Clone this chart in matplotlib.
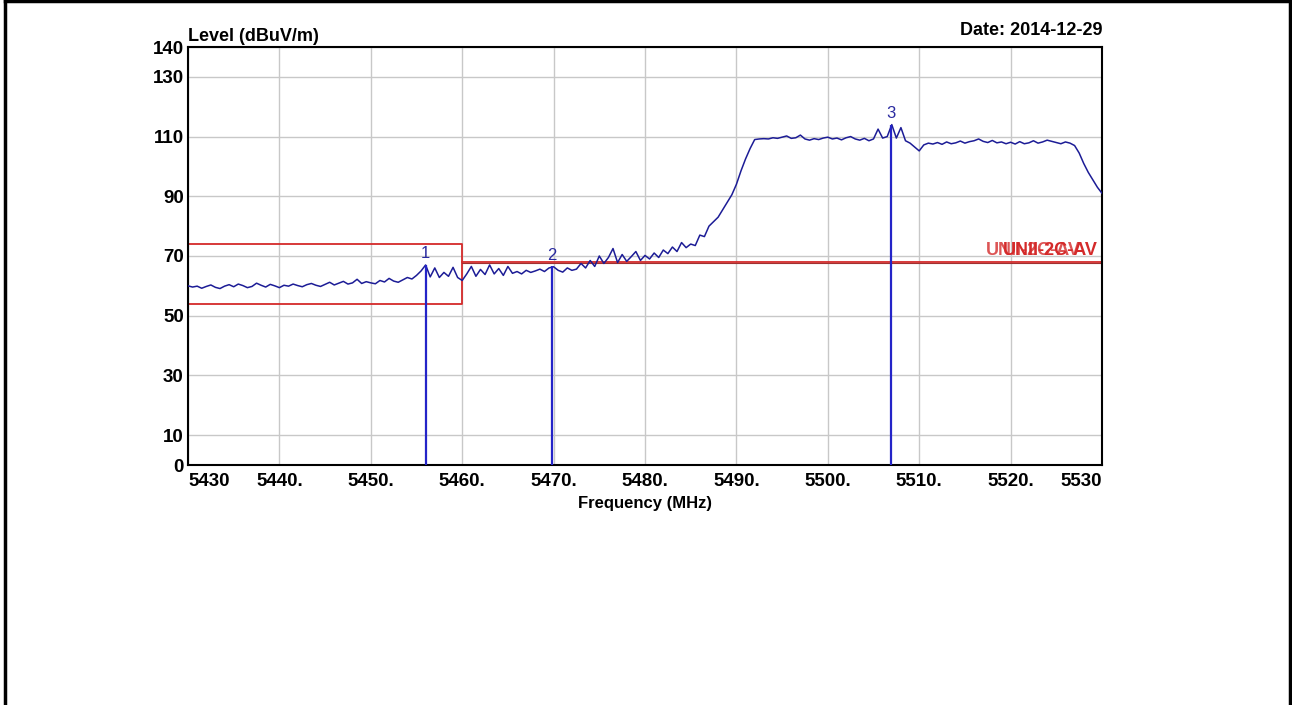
import matplotlib.pyplot as plt
import numpy as np

plt.rcParams['font.family'] = ['Liberation Sans', 'DejaVu Sans']

# trace, one point every 0.5 MHz from 5430 to 5530
freq = np.linspace(5430, 5530, 201)
level = [
    60.0, 59.6, 59.9, 59.2, 59.8, 60.3, 59.5, 59.1, 59.9, 60.4,
    59.7, 60.6, 60.1, 59.4, 59.8, 60.9, 60.2, 59.6, 60.5, 60.0,
    59.4, 60.2, 59.9, 60.6, 60.1, 59.7, 60.4, 60.8, 60.2, 59.8,
    60.5, 61.2, 60.3, 60.9, 61.5, 60.6, 61.0, 62.2, 60.8, 61.4,
    61.0, 60.7, 61.8, 61.3, 62.5, 61.6, 61.2, 62.0, 62.8, 62.3,
    63.5, 65.0, 67.0, 63.0, 66.0, 62.8, 64.5, 63.2, 66.2, 62.8,
    61.8, 64.0, 66.5, 63.2, 65.5, 63.8, 67.0, 64.0, 65.8, 63.5,
    66.5, 64.2, 64.8, 64.0, 65.2, 64.5, 65.0, 65.6, 64.8, 66.0,
    66.4, 65.2, 64.6, 66.0, 65.2, 65.6, 67.5, 66.0, 68.5, 66.5,
    70.0, 67.5, 69.5, 72.5, 67.8, 70.5, 68.2, 69.8, 71.5, 68.5,
    70.2, 69.0, 71.0, 69.5, 72.0, 70.8, 73.0, 71.5, 74.5, 72.8,
    74.0, 73.5, 77.0, 76.5, 80.0, 81.5, 83.0, 85.5, 88.0, 90.5,
    94.0, 98.5, 102.5, 106.0, 109.0, 109.2, 109.3, 109.2, 109.6, 109.4,
    109.8, 110.2, 109.4, 109.6, 110.5, 109.2, 108.8, 109.3, 109.0, 109.5,
    109.8, 109.2, 109.5, 108.9, 109.6, 110.0, 109.2, 108.8, 109.4, 108.6,
    109.2, 112.5, 109.5, 110.0, 114.0, 109.5, 113.0, 108.6, 107.8, 106.5,
    105.2, 107.2, 107.8, 107.5, 108.0, 107.4, 108.2, 107.6, 107.9, 108.5,
    107.8, 108.3, 108.6, 109.2, 108.4, 108.0, 108.7, 107.9, 108.2, 107.6,
    108.1, 107.5, 108.3, 107.6, 107.9, 108.6, 107.8, 108.2, 108.8, 108.4,
    108.0, 107.6, 108.2, 107.8, 107.0, 104.5, 101.0, 98.0, 95.5, 93.0,
    91.0,
]

marker_freq = [5456.0, 5469.8, 5506.9]
marker_level = [67.0, 66.5, 114.0]
marker_name = ["1", "2", "3"]

# limit lines
box_f = [5430, 5460]
box_lo = 54.0
box_hi = 74.0
limit_f = [5460, 5530]
limit_level = 68.0
limit_name = "UNII-2C-AV"

xticks = [5430, 5440, 5450, 5460, 5470, 5480, 5490, 5500, 5510, 5520, 5530]
xlabels = ["5430", "5440.", "5450.", "5460.", "5470.", "5480.", "5490.",
           "5500.", "5510.", "5520.", "5530"]
yticks = [0, 10, 30, 50, 70, 90, 110, 130, 140]

fig = plt.figure(figsize=(12.92, 7.05), dpi=100)
ax = fig.add_axes([188/1292, 1-465/705, 914/1292, 418/705])

red = "#d42a2a"
blue = "#1c1c96"

ax.plot(freq, level, color=blue, lw=1.1, zorder=3)

# red box and limit line
ax.plot([box_f[0], box_f[1], box_f[1], box_f[0]], [box_hi, box_hi, box_lo, box_lo],
        color=red, lw=1.3, zorder=2)
ax.plot(limit_f, [limit_level, limit_level], color=red, lw=1.3, zorder=2)
ax.plot(limit_f, [limit_level - 0.5, limit_level - 0.5], color="#a03030", lw=0.8, zorder=2)
# two limit labels printed on top of each other, as in the original
ax.text(5529.5, 71.8, limit_name, color=red, fontsize=13, fontweight="bold",
        ha="right", va="center", zorder=4)
ax.text(5517.3, 71.8, limit_name, color=red, fontsize=13, fontweight="bold",
        ha="left", va="center", alpha=0.8, zorder=4)

for f, l, n in zip(marker_freq, marker_level, marker_name):
    ax.vlines(f, 0, l, color="#2424c8", lw=1.6, zorder=4)
    ax.text(f, l + 1.3, n, color="#2a2aa0", fontsize=12, ha="center", va="bottom")

ax.set_xlim(5430, 5530)
ax.set_ylim(0, 140)
ax.set_xticks(xticks)
ax.set_xticklabels(xlabels, fontsize=13.5, fontweight="bold")
ax.get_xticklabels()[0].set_ha("left")
ax.get_xticklabels()[-1].set_ha("right")
ax.set_yticks(yticks)
ax.set_yticklabels([str(v) for v in yticks], fontsize=13.5, fontweight="bold")
ax.tick_params(axis="x", length=0, pad=6)
ax.tick_params(axis="y", length=0, pad=3)
ax.grid(True, color="#c8c8c8", lw=1.0)
ax.set_axisbelow(True)
for s in ax.spines.values():
    s.set_linewidth(1.5)

ax.set_xlabel("Frequency (MHz)", fontsize=12, fontweight="bold", labelpad=4)
ax.text(0.0, 1.005, "Level (dBuV/m)", transform=ax.transAxes, fontsize=13,
        fontweight="bold", ha="left", va="bottom")
ax.text(1.0, 1.02, "Date: 2014-12-29", transform=ax.transAxes, fontsize=13,
        fontweight="bold", ha="right", va="bottom")

# outer frame of the page
fig.add_artist(plt.Line2D([5/1292, 5/1292], [0, 1], color="black", lw=2.5))
fig.add_artist(plt.Line2D([5/1292, 1290/1292], [0.999, 0.999], color="black", lw=2.5))
fig.add_artist(plt.Line2D([1290/1292, 1290/1292], [0, 1], color="black", lw=2.5))

fig.savefig("out.png", dpi=100)
